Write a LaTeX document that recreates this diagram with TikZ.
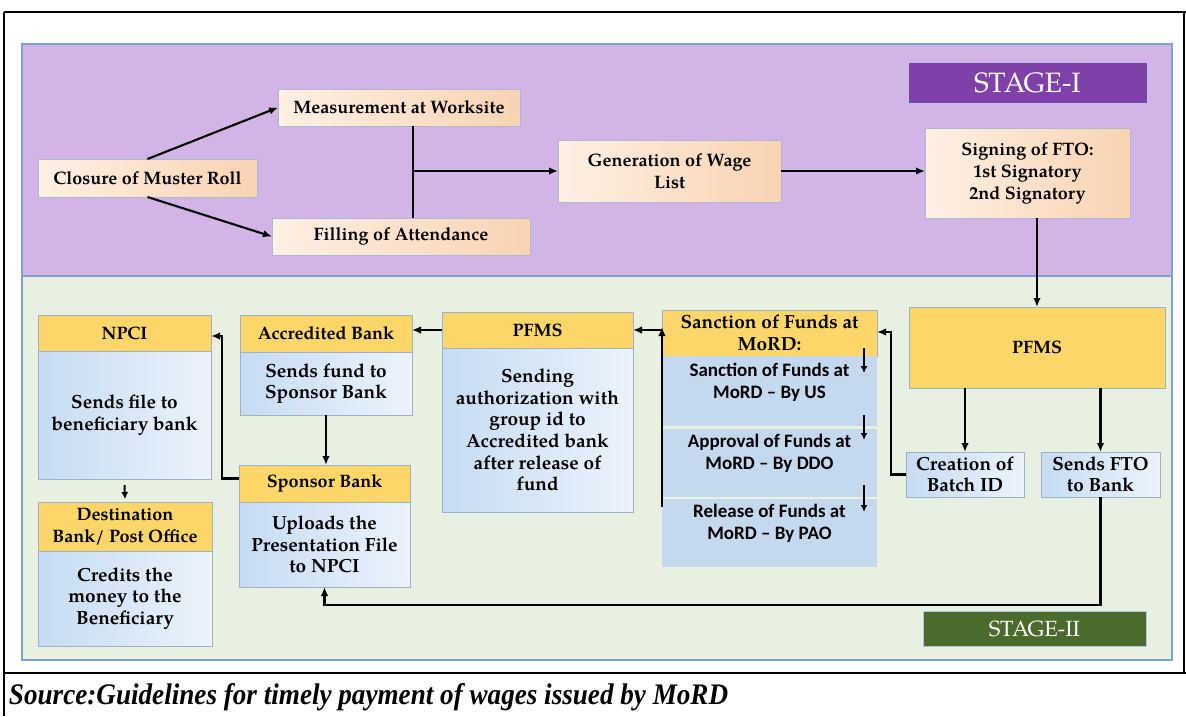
\documentclass[tikz,border=0pt]{standalone}
\usepackage{fontspec}
\setmainfont{TeX Gyre Pagella}
\newfontfamily\calfont{Carlito}
\newfontfamily\srcfont{Liberation Serif}
\usetikzlibrary{arrows.meta,calc}
\definecolor{purpleBg}{HTML}{D3B4E6}
\definecolor{greenBg}{HTML}{E7F0E1}
\definecolor{panelBorder}{HTML}{7BA3D6}
\definecolor{peachL}{HTML}{FEF0E4}
\definecolor{peachR}{HTML}{F9D3B2}
\definecolor{peachBorder}{HTML}{A9BBD3}
\definecolor{yellowC}{HTML}{FCD669}
\definecolor{headBorder}{HTML}{9DB2C8}
\definecolor{blueL}{HTML}{C6DCF3}
\definecolor{blueR}{HTML}{EBF3FC}
\definecolor{subBlue}{HTML}{C5D9EE}
\definecolor{stageOne}{HTML}{8040A9}
\definecolor{stageTwo}{HTML}{4B6B2C}
\newcommand\bxf{\fontsize{18}{22}\selectfont\bfseries}
\newcommand\bodyf{\fontsize{19}{21.6}\selectfont\bfseries}
\newcommand\subf{\calfont\fontsize{19}{22}\selectfont\bfseries}
\newcommand\mkbox[7]{%
  \pgfmathsetmacro\bxcx{(#3+#5)/2}%
  \pgfmathsetmacro\bxcy{(#4+#6)/2}%
  \pgfmathsetmacro\bxw{#5-#3}%
  \pgfmathsetmacro\bxh{#6-#4}%
  \node[#2, minimum width=\bxw pt, minimum height=\bxh pt] (#1) at (\bxcx,\bxcy) {#7};}
\begin{document}
\begin{tikzpicture}[x=1pt,y=-1pt,
  every node/.style={inner sep=0pt, outer sep=0pt},
  panel/.style={draw=panelBorder, line width=1.8pt},
  peach/.style={draw=peachBorder, line width=1pt, left color=peachL, right color=peachR, align=center, font=\bxf},
  yhead/.style={draw=headBorder, line width=1pt, fill=yellowC, align=center, font=\bxf},
  bbody/.style={draw=headBorder, line width=1pt, left color=blueL, right color=blueR, align=center, font=\bodyf},
  subbox/.style={fill=subBlue, draw=none},
  subtext/.style={align=center, font=\subf},
  stagebox/.style={draw=panelBorder!60!white, line width=0.8pt, text=white, font=\fontsize{28}{28}\selectfont},
  arr/.style={line width=2.1pt, -{Latex[length=9pt,width=7.5pt]}},
  sarr/.style={line width=2pt, -{Latex[length=7pt,width=7pt]}},
  ln/.style={line width=2.1pt},
  frame/.style={line width=2.4pt, black}]
\useasboundingbox (0,0) rectangle (1186,716);
% outer frame
\draw[frame] (4,12) -- (1186,12);
\draw[frame] (4,12) -- (4,716);
\draw[frame] (1184,12) -- (1184,673);
\draw[frame] (4,673) -- (1186,673);
% panels
\filldraw[panel, fill=purpleBg] (22,44) rectangle (1172,276);
\filldraw[panel, fill=greenBg] (22,276) rectangle (1172,660);
% stage labels
\mkbox{st1}{stagebox, fill=stageOne}{908}{62}{1147}{103}{STAGE-I}
\mkbox{st2}{stagebox, fill=stageTwo, font=\fontsize{22}{22}\selectfont}{923}{611}{1146}{646}{STAGE-II}
% stage I boxes
\mkbox{closure}{peach}{38}{159}{257}{197}{Closure of Muster Roll}
\mkbox{measure}{peach}{278}{89}{520}{126}{Measurement at Worksite}
\mkbox{filling}{peach}{272}{218}{530}{255}{Filling of Attendance}
\mkbox{gen}{peach}{558}{140}{781}{202}{Generation of Wage\\List}
\mkbox{sign}{peach}{925}{128}{1130}{218}{Signing of FTO:\\1st Signatory\\2nd Signatory}
% stage I connectors
\coordinate (j) at (413,171);
\draw[arr] (closure.north) -- (measure.west);
\draw[arr] (closure.south) -- (filling.west);
\draw[ln] (measure.south -| j) -- (filling.north -| j);
\draw[arr] (j) -- (gen.west |- j);
\draw[arr] (gen.east) -- (sign.west |- gen.east);
% stage II boxes
\mkbox{pfms}{yhead}{909}{307}{1165}{388}{PFMS}
\mkbox{batch}{bbody}{906}{452}{1024}{497}{Creation of\\Batch ID}
\mkbox{fto}{bbody}{1041}{452}{1160}{497}{Sends FTO\\to Bank}
\mkbox{sanH}{yhead, font=\fontsize{19}{21.5}\selectfont\bfseries}{662}{310}{877}{356}{Sanction of Funds at\\MoRD:}
\mkbox{s1}{subbox}{662}{356}{877}{426}{}
\mkbox{s2}{subbox}{662}{429}{877}{497}{}
\mkbox{s3}{subbox}{662}{499}{877}{567}{}
\node[subtext] (s1t) at ([yshift=9pt]s1.center) {Sanction of Funds at\\MoRD – By US};
\node[subtext] (s2t) at ([yshift=10pt]s2.center) {Approval of Funds at\\MoRD – By DDO};
\node[subtext] (s3t) at ([yshift=10pt]s3.center) {Release of Funds at\\MoRD – By PAO};
\mkbox{pfH}{yhead}{442}{312}{633}{348}{PFMS}
\mkbox{pfB}{bbody}{442}{348}{633}{512}{Sending\\authorization with\\group id to\\Accredited bank\\after release of\\fund}
\mkbox{accH}{yhead}{240}{315}{412}{352}{Accredited Bank}
\mkbox{accB}{bbody}{240}{352}{412}{415}{Sends fund to\\Sponsor Bank}
\mkbox{spH}{yhead}{239}{465}{410}{502}{Sponsor Bank}
\mkbox{spB}{bbody}{239}{502}{410}{587}{Uploads the\\Presentation File\\to NPCI}
\mkbox{npH}{yhead}{38}{315}{211}{351}{NPCI}
\mkbox{npB}{bbody}{38}{351}{211}{479}{Sends file to\\beneficiary bank}
\mkbox{dH}{yhead}{38}{502}{212}{551}{Destination\\Bank/ Post Office}
\mkbox{dB}{bbody}{38}{551}{212}{646}{Credits the\\money to the\\Beneficiary}
% stage II connectors
\draw[arr] (sign.south -| pfms.north) -- (pfms.north);
\draw[arr] (pfms.south -| batch.north) -- (batch.north);
\draw[arr] (pfms.south -| fto.north) -- (fto.north);
\draw[arr] (batch.west) -- ++(-15,0) |- ([yshift=1pt]sanH.east);
\coordinate (ret) at (324.5,605);
\draw[arr] (fto.south) |- (ret) -- (spB.south);
\draw[sarr] ($(sanH.south east)+(-13,-8)$) -- ($(s1.north east)+(-13,17)$);
\draw[sarr] ($(s2.north east)+(-13,-14)$) -- ($(s2.north east)+(-13,11)$);
\draw[sarr] ($(s3.north east)+(-13,-14)$) -- ($(s3.north east)+(-13,13)$);
\draw[arr] ($(s3.north west)+(0,8)$) -- ($(sanH.west)+(0,-6)$);
\draw[arr] (pfH.east -| sanH.west) -- (pfH.east);
\draw[arr] (pfH.west) -- (accH.east |- pfH.west);
\draw[arr] (accB.south) -- (accB.south |- spH.north);
\draw[arr] ([yshift=5pt]spH.west) -- ++(-17,0) |- ([yshift=-3pt]npH.east);
\draw[sarr] ($(npB.south)+(0,6)$) -- ($(dH.north)+(0,-3)$);
% source line
\node[anchor=base west] (src) at (9,704) {\resizebox{719pt}{21pt}{\srcfont\bfseries\itshape Source:Guidelines for timely payment of wages issued by MoRD}};
\end{tikzpicture}
\end{document}
